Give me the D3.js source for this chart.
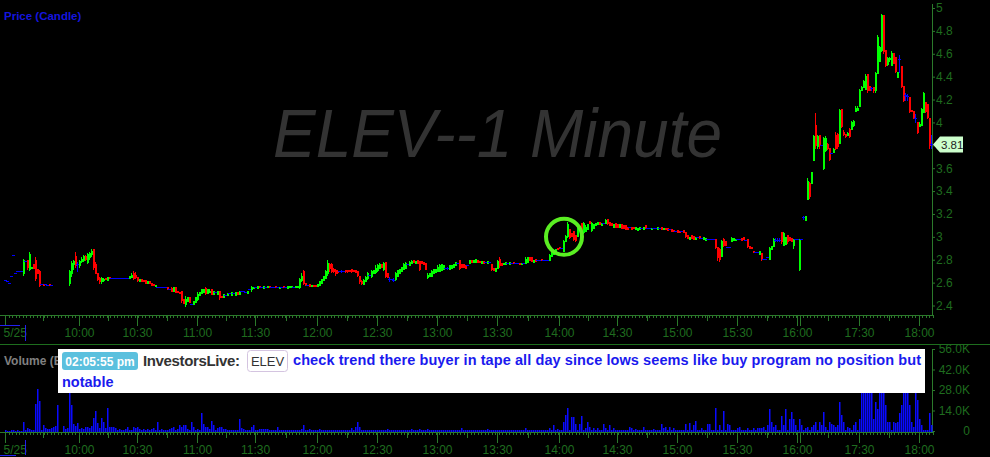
<!DOCTYPE html>
<html><head><meta charset="utf-8">
<script src="https://cdn.jsdelivr.net/npm/d3@7"></script>
<style>html,body{margin:0;padding:0;background:#000;}svg{display:block;}</style>
</head><body>
<svg id="c" width="990" height="457"></svg>
<script>
// ---------- DATA ----------
// 1-minute candles, prices in cents: [open, high, low, close]; null = no trade
const candles = [
[262,262,262,262],[261,261,261,261],[260,260,260,260],[266,266,266,266],[284,284,284,284],[268,268,268,268],[270,270,270,270],[270,270,270,270],[270,270,270,270],[268,281,267,280],
[279,279,279,279],[280,280,272,274],[272,287,271,285],[273,274,273,274],[276,276,273,273],[280,282,262,264],[272,272,268,268],[270,271,257,258],[259,259,259,259],[259,259,258,258],
[259,259,259,259],[258,258,258,258],[259,259,258,258],[258,258,258,258],null,null,null,null,null,null,
null,null,[260,271,258,270],[268,279,266,277],[276,280,272,279],[283,287,274,275],[276,278,270,276],[275,280,274,279],[279,282,278,281],[280,284,279,283],
[283,284,280,281],[278,286,277,285],[282,287,281,286],[285,289,283,288],[289,289,272,274],[276,278,268,268],[268,268,262,263],[264,265,260,261],[261,265,260,264],[262,264,261,263],
[264,264,263,263],[262,265,262,265],[265,265,264,264],[264,264,264,264],[264,264,264,264],[264,264,264,264],[264,264,264,264],[264,264,264,264],[264,264,264,264],[264,264,264,264],
[264,264,264,264],[264,264,264,264],[264,266,264,266],[265,268,265,267],[268,270,263,264],[267,269,264,265],[265,265,261,262],[261,263,261,263],[263,263,261,261],[262,262,261,261],
[262,262,260,260],[260,261,260,261],[261,261,260,260],[260,260,258,258],[259,259,258,258],[257,258,257,258],[256,256,256,256],[256,256,256,256],[256,256,256,256],[256,256,256,256],
[256,256,256,256],[256,256,254,254],[254,254,254,254],[255,256,253,253],[253,256,253,256],[256,256,252,252],[253,253,252,252],[252,252,251,251],[253,253,243,245],[246,246,242,242],
[241,248,240,246],[244,247,244,247],[247,247,243,243],[241,241,241,241],[241,244,241,244],[243,247,243,247],[246,252,245,250],[249,252,249,252],[251,254,251,254],[252,254,252,254],
[255,256,250,251],[251,254,251,254],[252,254,252,253],[254,254,250,250],[250,253,250,253],[252,252,252,252],[250,253,250,253],[253,253,246,247],[248,248,247,247],[247,250,247,250],
[249,249,249,249],[249,251,249,251],[251,251,251,251],[249,252,249,252],[251,251,251,251],[249,252,249,252],[252,252,250,250],[250,253,250,253],[253,253,253,253],[253,253,253,253],
[252,252,252,252],[251,253,251,253],[254,254,254,254],[254,257,253,256],[255,256,255,256],[256,256,256,256],[255,257,255,257],[257,257,256,256],[256,256,256,256],[255,257,255,257],
[256,256,256,256],[256,257,256,257],[257,257,256,256],[256,256,256,256],[256,256,256,256],[257,257,256,256],[256,256,256,256],[255,256,255,256],[256,256,256,256],[257,257,256,256],
[256,256,256,256],[255,257,255,257],[256,257,256,257],[256,257,256,257],[256,256,256,256],[256,257,256,257],[256,257,256,257],[256,264,255,263],[262,268,261,266],[270,271,259,260],
[260,260,258,258],[258,258,258,258],[259,259,257,257],[257,258,257,258],[258,258,257,257],[258,258,257,257],[257,259,257,259],[258,261,258,261],[260,263,260,263],[262,266,262,266],
[264,271,264,270],[268,280,267,277],[276,277,270,273],[276,277,269,270],[272,273,269,270],[271,272,267,268],[270,271,268,269],[270,270,270,270],[270,271,269,270],[270,270,270,270],
[271,271,269,270],[271,271,269,270],[271,271,270,270],[272,272,269,270],[271,271,270,270],[271,271,269,269],[270,270,266,267],[266,266,260,261],[261,262,259,260],[259,263,259,262],
[261,266,261,265],[264,269,263,268],[267,267,267,267],[266,271,265,270],[268,271,268,271],[269,275,268,273],[271,276,270,275],[273,277,273,276],[276,276,274,274],[272,278,271,277],
[278,278,265,266],[268,268,265,265],[263,265,261,263],[263,263,263,263],[262,264,261,262],[263,269,262,268],[266,271,266,271],[268,272,268,272],[270,274,270,274],[272,277,272,276],
[273,278,273,277],[276,276,276,276],[275,279,275,278],[277,280,277,279],[280,280,278,278],[277,279,277,279],[280,280,277,277],[279,279,271,272],[279,279,277,277],[278,278,276,276],
[277,277,272,272],[265,268,264,267],[266,268,266,268],[266,271,266,270],[268,272,268,272],[269,272,269,272],[270,275,270,274],[270,276,270,275],[271,276,271,276],[272,275,272,275],
[273,273,273,273],[273,274,272,273],[272,275,272,275],[273,275,273,275],[274,276,274,276],[275,278,275,278],[277,277,277,277],[280,280,272,273],[276,276,274,274],[276,276,274,274],
[275,275,273,273],[275,275,275,275],[277,280,277,280],[280,280,278,278],[278,280,278,280],[278,281,278,281],[280,280,278,278],[279,279,278,278],[277,279,277,279],[279,279,277,277],
[278,278,278,278],[277,279,277,279],[278,278,278,278],[276,276,271,272],[273,273,271,271],[270,273,270,273],[273,280,273,279],[281,282,274,275],[277,277,275,275],[276,277,276,277],
[276,278,276,278],[277,277,277,277],[276,278,276,278],[277,277,277,277],[278,278,277,277],[277,277,277,277],[277,277,277,277],[277,277,276,276],[276,277,276,277],[277,277,277,277],
[277,282,277,281],[278,282,278,282],[282,282,280,280],[282,282,279,279],[278,280,278,280],[281,281,279,279],[280,280,280,280],[280,280,280,280],[281,281,280,280],[280,280,280,280],
[280,280,280,280],[280,280,280,280],[280,285,280,284],[283,287,283,286],[285,287,285,287],[287,289,287,289],[290,290,289,289],[291,291,290,290],[290,290,290,290],[288,297,288,296],
[296,302,296,301],[301,313,300,311],[307,307,299,300],[303,303,301,301],[305,305,297,298],[302,302,296,297],[301,311,301,310],[306,308,306,308],[312,312,303,304],[304,313,303,312],
[305,310,305,309],[307,311,307,311],[314,314,312,312],[306,313,305,312],[308,311,308,311],[310,312,310,312],[311,313,311,313],[313,313,311,311],[310,312,310,312],[312,312,312,312],
[312,316,312,315],[316,316,311,312],[313,313,310,310],[312,312,310,310],[309,311,309,311],[312,312,309,309],[311,311,309,309],[309,311,309,311],[311,311,308,308],[310,310,308,308],
[310,310,307,307],[309,309,307,307],[309,309,309,309],[309,309,307,307],[309,309,308,308],[307,309,307,309],[306,308,306,308],[307,309,307,309],[308,308,308,308],[307,309,307,309],
[310,310,308,308],[308,308,308,308],[308,308,308,308],[307,308,307,308],[308,308,308,308],[308,308,308,308],[307,309,307,309],[308,308,308,308],[309,309,307,307],[307,308,307,308],
[308,308,307,307],[308,308,306,306],[307,307,307,307],[307,307,305,305],[306,306,305,305],[305,305,305,305],[306,306,304,304],[305,305,304,304],[305,305,305,305],[306,306,304,304],
[304,304,300,301],[302,302,299,299],[298,300,298,300],[302,302,299,299],[301,301,298,298],[298,300,298,300],[300,300,300,300],[301,301,299,299],[299,299,299,299],[298,300,298,300],
[297,299,297,299],[298,298,298,298],[298,298,298,298],[298,298,298,298],[298,298,298,298],[298,298,290,291],[291,291,280,282],[289,290,279,281],[283,297,283,296],[298,299,292,293],
[296,296,293,293],[291,291,291,291],[291,291,291,291],[296,300,296,299],[297,299,297,299],[297,298,297,298],[298,298,298,298],[298,298,298,298],[299,299,297,297],[300,300,298,298],
[297,297,297,297],[298,298,291,292],[292,292,290,290],[291,291,290,290],[288,288,287,287],[287,287,287,287],[287,287,287,287],[285,288,285,288],[286,286,280,281],[281,281,281,281],
[281,281,281,281],[282,282,282,282],[281,291,281,290],[289,292,289,292],[292,299,292,298],[297,299,296,297],[297,299,296,297],[297,299,296,297],[304,304,295,296],[293,304,293,303],
[294,300,294,300],[302,302,295,296],[300,300,297,297],[299,299,296,296],[293,298,290,298],[298,298,298,298],[298,298,298,298],[272,298,271,298],[298,298,298,298],[317,318,316,317],
[315,318,315,318],[333,351,333,349],[347,348,334,336],[347,357,347,357],[367,389,367,388],[398,408,378,380],[379,389,378,388],[389,389,378,380],[380,380,380,380],[360,387,359,386],
[376,388,375,386],[381,382,377,378],[378,378,367,368],[373,373,373,373],[374,378,374,377],[389,392,377,378],[390,391,378,379],[382,412,382,411],[412,412,396,397],[392,393,389,390],
[390,390,387,388],[389,392,389,391],[394,395,387,388],[394,401,394,400],[398,402,397,401],[410,414,410,413],[411,414,411,413],[414,429,414,428],[428,432,428,431],[431,437,431,436],
[429,442,429,441],[442,442,427,428],[432,432,428,428],[430,431,428,430],[431,431,427,428],[428,444,427,443],[443,476,443,475],[454,467,454,466],[463,495,462,494],[494,494,461,462],
[463,463,449,450],[451,457,450,456],[455,457,454,456],[450,462,450,461],[461,461,452,452],[457,457,444,445],[440,444,440,444],[455,459,444,455],[449,449,431,432],[432,432,419,420],
[424,426,420,424],[423,425,420,423],[422,422,409,410],[411,411,410,410],[410,410,404,405],[404,407,400,404],[400,400,391,392],[397,400,397,399],[398,413,398,412],[409,427,409,426],
[418,418,409,410],[416,416,404,405],[404,404,378,380],[381,389,378,381]
];
// volume per bar, thousands of shares
const volume = [
0.4,0.3,0.3,0.5,0.8,0.3,0.4,0.3,0.3,6.4,
0.5,2,1.5,0.8,0.6,18.5,28.7,20.5,0.8,4,
2,1.5,1.5,2,2.5,3.5,17.8,0,0,3.5,
1.5,2,30,17.5,5,3.5,5.5,1.5,2,1.5,
2.5,3,2,3.5,9,13.6,5.5,2,9,6.4,
2,15.5,3,3,3,2,1,1.5,1,1,
1.5,3,1,1,3,2,3,1.5,1,1.5,
1,1.5,1,1.5,2,1,6,1,1.5,1,
1,1,1.5,2,3,1,1.5,4,3,4,
4,1.5,1,6,3,1,1.5,1,12,5,
3,3,1.5,7,4,1,2,3,3,1.5,
1.5,1,1,1,1,1,1,8.5,2,1.5,
1,1,1,3,4,1,1,1.5,1.5,1.5,
1.5,1.5,1,1,1,1,3,1,1,1,
1,1,1,1,1,1,1,1,1.5,4,
1,1,1.5,1,1,1,1,1.5,1,1,
1,1,1,1,1,1,1,1,1,1,
1,1,1,2,1,3,6,3,1,1,
1,1,1,1,1,1,1,1,1,1,
1,1.5,1,1,1,1,1,1,1,1,
1,1,1,1.5,1,1,1,1.5,1,1,
1,1.5,1,1,1,1,1,1,1,1,
1,1,1,1,1,1,1,1,2,1,
1,1,1,1,1,1,1,1,1,1,
1,1.5,1,1,1,1,1,1,1,1,
1,1,1,1,1,1,1,1,1,1,
2,1,1,1,1,1,1,1,1,1,
1,1,2,1,4,1,1.5,1,1,6,
11,15.8,1,9.5,9.5,5,1,5,10,1,
2,6,3,1,2,1,2,1,1,5,
2,1,4,1,2,1,1,1,1,1,
1,1,3,2,1,1.5,1,1,1,3,
1,1,1,1,1.5,1,1,1,5,2,
3,1,3,1,2,1,1,1,1,1,
5,1,5.5,1,4,7,1,1,2,1,
1,5,5,1,1,15.8,1,4,1,13.6,
1,5,4,1,1,1,2,3,1,1,
1,2,1,1,2,1,2,2,2,3,
1,4,15,6,3,4,1,1,10,4,
15,1,8.5,13,8,4,1,8.5,4,1,
2,3,1,3,4,6,1,6,4,13,
3,1,6,5,4,3,4,20,11,6,
1,3,2,1,4,6,1,8.5,35,40,
38,42,45,33,8.5,20,15,40,46,50,
18,6,6,1,6,5.5,6,12.5,18,30,
34,36,18,6,3,30,21,8.5,4,1,
1,0.5,12.5,4
];
const timeLabels = ["5/25","10:00","10:30","11:00","11:30","12:00","12:30","13:00","13:30","14:00","14:30","15:00","15:30","16:00","17:30","18:00"];
const timeIndex  = [0,37,66,96,125,156,186,216,246,277,306,336,366,396,427,457];
const priceTicks = [2.4,2.6,2.8,3,3.2,3.4,3.6,3.8,4,4.2,4.4,4.6,4.8,5];
const volumeTicks = [0,14,28,42,56];
const lastPrice = 3.81;
const circleBar = 279.5, circlePrice = 3.0;
const watermark = "ELEV--1 Minute";
const note = {time:"02:05:55 pm", user:"InvestorsLive:", symbol:"ELEV",
  line1:"check trend there buyer in tape all day since lows seems like buy program no position but",
  line2:"notable"};

// ---------- DRAW ----------
const FONT = "Liberation Sans, Arial, sans-serif";
const AX = "#2b7a2b", TX = "#1f6c1f";
const UP = "#00ff00", DN = "#ff0000", EQ = "#0000ff";
const svg = d3.select("#c");
svg.append("rect").attr("width",990).attr("height",457).attr("fill","#000");

const xs = d3.scaleLinear().domain([0,463]).range([5,931]);
const yP = d3.scaleLinear().domain([2.4,5]).range([305.5,8]);
const yV = d3.scaleLinear().domain([0,56]).range([431,349]);

// watermark
svg.append("text").attr("x",273).attr("y",157).attr("font-family",FONT).attr("font-style","italic")
  .attr("font-size",68).attr("fill","#333333").attr("textLength",449).attr("lengthAdjust","spacingAndGlyphs")
  .text(watermark);

// labels
svg.append("text").attr("x",4).attr("y",20).attr("font-family",FONT).attr("font-weight","bold")
  .attr("font-size",11.5).attr("fill","#1515dd").text("Price (Candle)");
svg.append("defs").append("clipPath").attr("id","volclip").append("rect")
  .attr("x",0).attr("y",346).attr("width",58).attr("height",30);
svg.append("text").attr("x",4).attr("y",365).attr("font-family",FONT).attr("font-weight","bold")
  .attr("font-size",12).attr("fill","#808080").attr("clip-path","url(#volclip)").text("Volume (ELEV)");

function styleAxis(g, fs){
  g.select(".domain").remove();
  g.selectAll(".tick line").attr("stroke",AX);
  g.selectAll(".tick text").attr("fill",TX).attr("font-family",FONT).attr("font-size",fs||12);
}
const minorIdx = d3.range(0,464,1.75).map(v=>Math.round(v*2)/2);
const midIdx = [];
for(let k=1;k<timeIndex.length-1;k++) midIdx.push(Math.round((timeIndex[k]+timeIndex[k+1]))/2);
midIdx.push(19);

function timeAxis(y0){
  svg.append("g").attr("transform",`translate(0,${y0})`)
    .call(d3.axisBottom(xs).tickValues(minorIdx).tickSize(3).tickFormat("")).call(styleAxis);
  svg.append("g").attr("transform",`translate(0,${y0})`)
    .call(d3.axisBottom(xs).tickValues(midIdx).tickSize(6).tickFormat("")).call(styleAxis);
  svg.append("g").attr("transform",`translate(0,${y0})`)
    .call(d3.axisBottom(xs).tickValues([397.5]).tickSize(11).tickFormat("")).call(styleAxis);
  const g = svg.append("g").attr("transform",`translate(0,${y0})`)
    .call(d3.axisBottom(xs).tickValues(timeIndex).tickSize(11).tickPadding(2)
      .tickFormat(d=>timeLabels[timeIndex.indexOf(d)]));
  styleAxis(g);
  g.selectAll(".tick").filter(d=>d===0).select("text").attr("text-anchor","start").attr("x",-2);
  svg.append("line").attr("x1",0).attr("x2",933).attr("y1",y0+0.5).attr("y2",y0+0.5).attr("stroke",AX);
}
timeAxis(315);
timeAxis(432);

// right axes
const gp = svg.append("g").attr("transform","translate(932,0)")
  .call(d3.axisRight(yP).tickValues(priceTicks).tickSize(3).tickPadding(1).tickFormat(d3.format("~g")));
styleAxis(gp);
svg.append("line").attr("x1",932.5).attr("x2",932.5).attr("y1",4).attr("y2",316).attr("stroke",AX);
const gv = svg.append("g").attr("transform","translate(932,0)")
  .call(d3.axisRight(yV).tickValues(volumeTicks).tickSize(3).tickFormat(d=>d===0?"0":d.toFixed(1)+"K"));
styleAxis(gv);
gv.selectAll(".tick text").attr("x",38).attr("text-anchor","end");
svg.append("line").attr("x1",932.5).attr("x2",932.5).attr("y1",349).attr("y2",433).attr("stroke",AX);

// separator
svg.append("line").attr("x1",0).attr("x2",990).attr("y1",344.5).attr("y2",344.5).attr("stroke","#1e6e1e");

// date bracket marks
const bl = svg.append("g").attr("stroke","#2222ee").attr("fill","none");
bl.append("path").attr("d","M0,325.5H20M25.5,325V341");
bl.append("path").attr("d","M25.5,440V455M0,455.5H16");

// candles
const bars = candles.map((c,i)=>c?{i,o:c[0]/100,h:c[1]/100,l:c[2]/100,c:c[3]/100}:null).filter(Boolean);
const col = d=> d.c>d.o?UP:(d.c<d.o?DN:EQ);
const R = v=>Math.round(yP(v));
const gc = svg.append("g").attr("shape-rendering","crispEdges");
bars.forEach(d=>{
  const x = xs(d.i), color = col(d);
  const yh = R(d.h), yl = R(d.l);
  if(yl>yh) gc.append("rect").attr("x",x).attr("y",yh).attr("width",1).attr("height",yl-yh+1).attr("fill",color);
  if(color===EQ){
    gc.append("rect").attr("x",x-1).attr("y",R(d.o)).attr("width",3).attr("height",1).attr("fill",color);
  } else {
    const y1 = Math.min(R(d.o),R(d.c)), y2 = Math.max(R(d.o),R(d.c));
    gc.append("rect").attr("x",x).attr("y",y1).attr("width",2).attr("height",y2-y1+1).attr("fill",color);
  }
});

// volume bars
svg.append("g").selectAll("rect").data(volume.map((v,i)=>({i,v})).filter(d=>d.v>0)).join("rect")
  .attr("x",d=>xs(d.i)).attr("width",1.5)
  .attr("y",d=>Math.round(yV(d.v))).attr("height",d=>Math.max(1,432-Math.round(yV(d.v))))
  .attr("fill","#0a0aff");

// highlight circle
svg.append("circle").attr("cx",xs(circleBar)).attr("cy",yP(circlePrice)).attr("r",18)
  .attr("fill","none").attr("stroke","#5aee22").attr("stroke-width",4);

// last price label
const ly = Math.round(yP(lastPrice))+0.5;
svg.append("path").attr("d",`M933,${ly}L940,${ly-8}H963V${ly+8}H940Z`).attr("fill","#ccffcc");
svg.append("text").attr("x",941).attr("y",ly+4).attr("font-family",FONT).attr("font-size",11.5)
  .attr("fill","#222").text(lastPrice.toFixed(2));

// annotation box
const ann = svg.append("g");
ann.append("rect").attr("x",58).attr("y",349).attr("width",867).attr("height",44).attr("fill","#fff");
ann.append("rect").attr("x",62).attr("y",352).attr("width",76).attr("height",18).attr("rx",3).attr("fill","#5bc0de");
ann.append("text").attr("x",100).attr("y",365.5).attr("text-anchor","middle").attr("font-family",FONT)
  .attr("font-weight","bold").attr("font-size",12).attr("fill","#fff").text(note.time);
ann.append("text").attr("x",143).attr("y",366).attr("font-family",FONT).attr("font-weight","bold")
  .attr("font-size",15).attr("fill","#333").attr("textLength",97).text(note.user);
ann.append("rect").attr("x",247.5).attr("y",350.5).attr("width",40).attr("height",21).attr("rx",3)
  .attr("fill","#fff").attr("stroke","#d4c4e0");
ann.append("text").attr("x",267.5).attr("y",366).attr("text-anchor","middle").attr("font-family",FONT)
  .attr("font-size",13).attr("fill","#333").text(note.symbol);
ann.append("text").attr("x",293).attr("y",365).attr("font-family",FONT).attr("font-weight","bold")
  .attr("font-size",14.5).attr("fill","#1a1aee").attr("textLength",628).text(note.line1);
ann.append("text").attr("x",62).attr("y",387).attr("font-family",FONT).attr("font-weight","bold")
  .attr("font-size",14.5).attr("fill","#1a1aee").text(note.line2);
</script>
</body></html>
